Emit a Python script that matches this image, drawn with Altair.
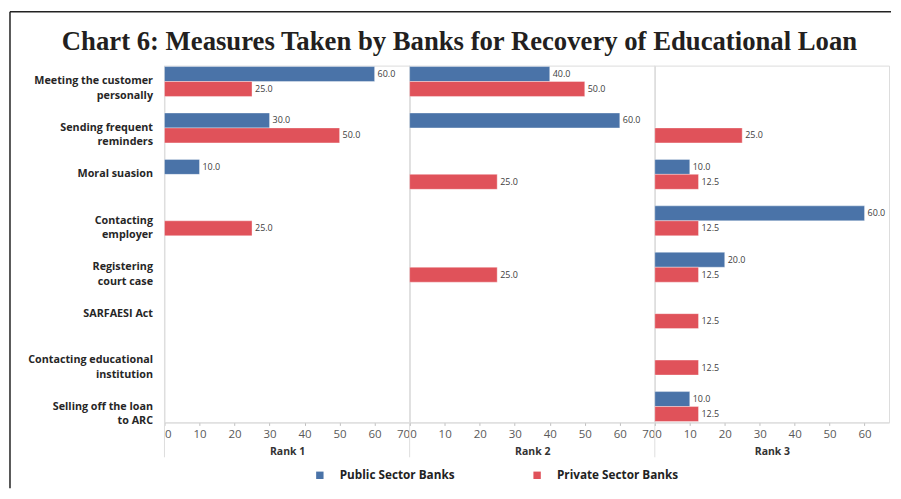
import altair as alt
import pandas as pd

title_text = "Chart 6: Measures Taken by Banks for Recovery of Educational Loan"

categories = [
    "Meeting the customer\npersonally",
    "Sending frequent\nreminders",
    "Moral suasion",
    "Contacting\nemployer",
    "Registering\ncourt case",
    "SARFAESI Act",
    "Contacting educational\ninstitution",
    "Selling off the loan\nto ARC",
]
series = ["Public Sector Banks", "Private Sector Banks"]
colors = ["#4a73a8", "#e0525a"]
ranks = ["Rank 1", "Rank 2", "Rank 3"]

public_rank1 = [60, 30, 10, None, None, None, None, None]
private_rank1 = [25, 50, None, 25, None, None, None, None]
public_rank2 = [40, 60, None, None, None, None, None, None]
private_rank2 = [50, None, 25, None, 25, None, None, None]
public_rank3 = [None, None, 10, 60, 20, None, None, 10]
private_rank3 = [None, 25, 12.5, 12.5, 12.5, 12.5, 12.5, 12.5]

ticks_full = [0, 10, 20, 30, 40, 50, 60, 70]
ticks_short = [0, 10, 20, 30, 40, 50, 60]

PX_PER_UNIT = 246 / 70
PANEL_H = 358

legend = alt.Legend(
    orient="none", legendX=150, legendY=405, direction="horizontal", title=None,
    symbolType="square", symbolSize=55, symbolStrokeWidth=0,
    labelFont="Open Sans", labelFontWeight="bold", labelFontSize=11.8, labelColor="#222222",
    columnPadding=76, labelOffset=14,
)

one_row = pd.DataFrame({"k": [0]})


def make_panel(rank, pub, priv, xmax, ticks, first):
    rows = []
    for cat, v in zip(categories, pub):
        if v is not None:
            rows.append({"Measure": cat, "Bank": series[0], "Value": v})
    for cat, v in zip(categories, priv):
        if v is not None:
            rows.append({"Measure": cat, "Bank": series[1], "Value": v})
    df = pd.DataFrame(rows)

    y_axis = alt.Axis(
        title=None, labelExpr="split(datum.label, '\\n')", labelFont="Open Sans",
        labelFontWeight="bold", labelFontSize=10.8, labelColor="#262626",
        labelPadding=12, ticks=False, tickSize=0, domain=False, labelLineHeight=14.5,
        labelLimit=300,
    ) if first else None
    y = alt.Y("Measure:N", sort=categories,
              scale=alt.Scale(domain=categories, paddingInner=0.356, paddingOuter=0.02),
              axis=y_axis)
    x = alt.X("Value:Q", scale=alt.Scale(domain=[0, xmax], nice=False, zero=True),
              axis=alt.Axis(values=ticks, title=rank, labelFlush=True, labelFontSize=11.5,
                            labelColor="#595959", labelFont="Open Sans",
                            domainColor="#d9d9d9", tickColor="#bfbfbf", tickSize=3,
                            labelPadding=3, titleFont="Open Sans", titleFontSize=10.5,
                            titleFontWeight="bold", titleColor="#333333", titlePadding=7,
                            grid=False))
    yoff = alt.YOffset("Bank:N", scale=alt.Scale(domain=series))

    base = alt.Chart(df)
    bars = base.mark_bar(stroke="#ffffff", strokeWidth=0.6, strokeOpacity=0.6).encode(
        x=x, y=y, yOffset=yoff,
        color=alt.Color("Bank:N", scale=alt.Scale(domain=series, range=colors), legend=legend),
    )
    text = base.mark_text(align="left", baseline="middle", dx=3, fontSize=9,
                          font="Open Sans", color="#404040").encode(
        x=x, y=y, yOffset=yoff, text=alt.Text("Value:Q", format=".1f"),
    )
    sep = alt.Chart(one_row).mark_rule(color="#dedede", strokeWidth=1).encode(
        x=alt.value(0), y=alt.value(0), y2=alt.value(393)
    )
    layers = [sep, bars, text]
    if first:
        frame_top = alt.Chart(one_row).mark_rule(color="#222222", strokeWidth=1.5).encode(
            x=alt.value(-155), x2=alt.value(729), y=alt.value(-54)
        )
        frame_left = alt.Chart(one_row).mark_rule(color="#222222", strokeWidth=1.5).encode(
            x=alt.value(-155), y=alt.value(-54), y2=alt.value(424)
        )
        title = alt.Chart(pd.DataFrame({"t": [title_text]})).mark_text(
            align="center", baseline="alphabetic", font="Liberation Serif",
            fontSize=26.8, fontWeight="bold", color="#231f20"
        ).encode(text="t:N", x=alt.value(296), y=alt.value(-16))
        layers += [frame_top, frame_left, title]
    return alt.layer(*layers).properties(width=round(xmax * PX_PER_UNIT), height=PANEL_H)


p1 = make_panel(ranks[0], public_rank1, private_rank1, 70, ticks_full, True)
p2 = make_panel(ranks[1], public_rank2, private_rank2, 70, ticks_full, False)
p3 = make_panel(ranks[2], public_rank3, private_rank3, 67, ticks_short, False)

chart = alt.HConcatChart(hconcat=[p1, p2, p3], spacing=0, bounds="flush").configure_view(
    stroke=None
).configure(padding={"left": 0, "top": 1, "right": 0, "bottom": 0}, background="white")

chart.save("out.html", embed_options={"renderer": "svg", "actions": False})
